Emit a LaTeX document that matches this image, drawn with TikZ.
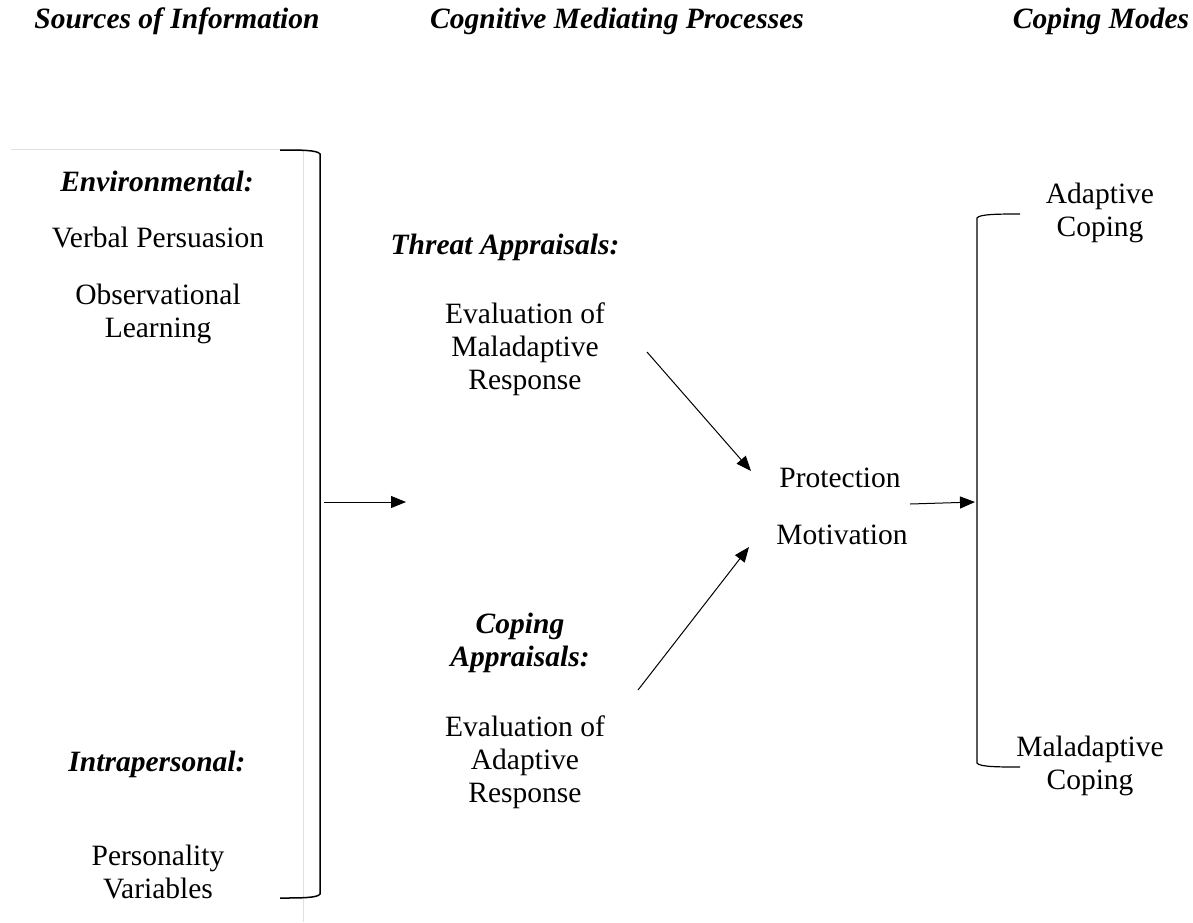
\documentclass[tikz,border=0pt]{standalone}
\usepackage{fontspec}
\setmainfont{Liberation Serif}
\usetikzlibrary{arrows.meta}
\begin{document}
\begin{tikzpicture}[x=1pt,y=-1pt,
  txt/.style={inner sep=0pt, align=center, font=\fontsize{29.5}{33}\selectfont},
  head/.style={txt, font=\fontsize{29.5}{33}\selectfont\bfseries\itshape},
  brace/.style={line width=1.5pt},
  guide/.style={line width=0.8pt, draw=black!12},
  link/.style={line width=1pt, -{Triangle[length=15pt,width=12pt]}}]
\useasboundingbox (0,0) rectangle (1193,922);

% faint frame around the source column
\draw[guide] (11,149) -- (303,149) -- (303,922);

% column titles
\node[head] (t1) at (177,21) {Sources of Information};
\node[head] (t2) at (617,21) {Cognitive Mediating Processes};
\node[head] (t3) at (1101,21) {Coping Modes};

% sources of information
\node[head] (env) at (157,181) {Environmental:};
\node[txt] (vp) at (158,237) {Verbal Persuasion};
\node[txt] (ol) at (158,314) {Observational\\Learning};
\node[head] (intra) at (157,764) {Intrapersonal:};
\node[txt] (pv) at (158,872) {Personality\\Variables};

% cognitive mediating processes
\node[head] (ta) at (505,247) {Threat Appraisals:};
\node[txt] (em) at (525,349) {Evaluation of\\Maladaptive\\Response};
\node[head] (ca) at (520,643) {Coping\\Appraisals:};
\node[txt] (ea) at (525,762) {Evaluation of\\Adaptive\\Response};

% protection motivation
\node[txt] (pr) at (840,478) {Protection};
\node[txt] (mo) at (842,535) {Motivation};

% coping modes
\node[txt] (ac) at (1100,213) {Adaptive\\Coping};
\node[txt] (mc) at (1090,766) {Maladaptive\\Coping};

% brackets
\draw[brace] (280,150) .. controls (300,150) and (318,150) .. (320,154)
  -- (320,894) .. controls (318,898) and (300,898) .. (280,898);
\draw[brace, line width=1.2pt] (1020,214) .. controls (1000,214) and (979,214) .. (977,218)
  -- (977,763) .. controls (979,767) and (1000,767) .. (1020,767);

% arrow end points
\coordinate (srcout) at (324,502);
\coordinate (midin) at (406,502);
\coordinate (emout) at (647,352);
\coordinate (pmtop) at (751,471);
\coordinate (eaout) at (638,690);
\coordinate (pmbot) at (749,547);
\coordinate (pmout) at (910,504);
\coordinate (modein) at (975,502);

\draw[link] (srcout) -- (midin);
\draw[link] (emout) -- (pmtop);
\draw[link] (eaout) -- (pmbot);
\draw[link] (pmout) -- (modein);
\end{tikzpicture}
\end{document}
